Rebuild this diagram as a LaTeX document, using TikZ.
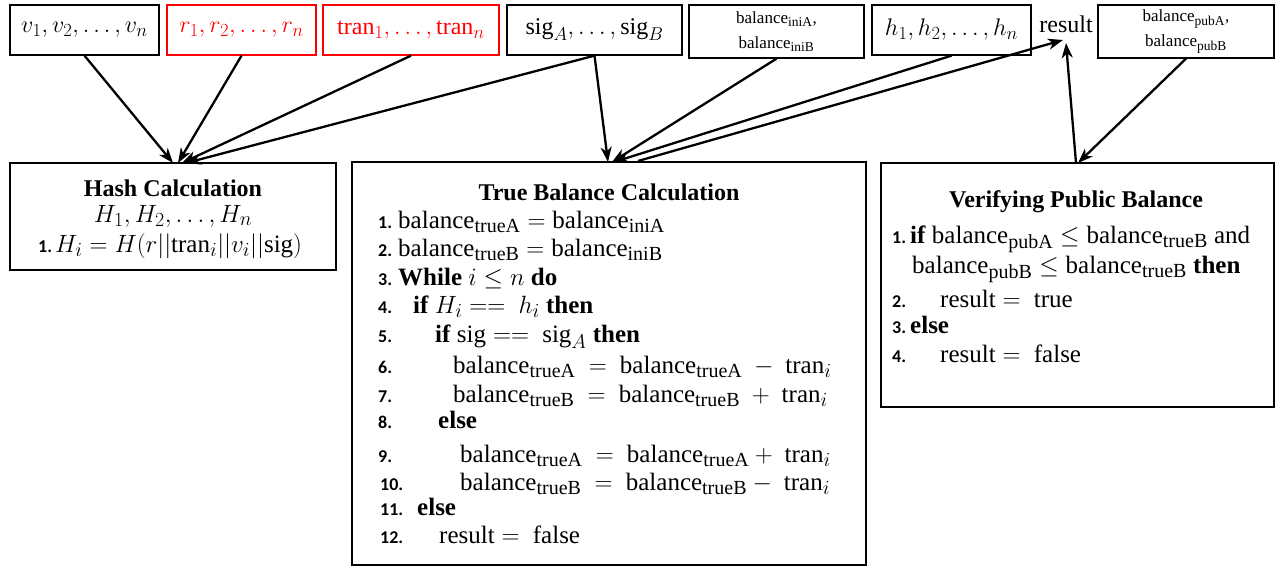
\RequirePackage{fix-cm}
\documentclass[tikz,border=0pt]{standalone}
\usepackage{amsmath}
\usepackage{fontspec}
\setmainfont{Liberation Serif}
\newfontfamily\numfont{Carlito}
\DeclareMathSizes{25}{25}{20}{15}
\DeclareMathSizes{24}{24}{18.5}{13}
\DeclareMathSizes{17}{17}{13.5}{10}
\usetikzlibrary{arrows.meta,calc}
\definecolor{boxred}{RGB}{255,0,0}
\newcommand{\bal}[1]{\mathrm{balance}_{\mathrm{#1}}}
\newcommand{\trn}{\mathrm{tran}_i}
\tikzset{
  inbox/.style={draw, line width=1.3pt, minimum height=50pt, inner sep=0pt, font=\fontsize{24}{28}\selectfont},
  redbox/.style={inbox, draw=boxred, text=boxred},
  smallbox/.style={inbox, minimum height=53pt, align=center, font=\fontsize{17}{25}\selectfont},
  bigbox/.style={draw, line width=1.3pt, inner sep=0pt},
  txt/.style={anchor=base west, inner sep=0pt, font=\fontsize{25}{29}\selectfont},
  ttl/.style={anchor=base, inner sep=0pt, font=\bfseries\fontsize{24}{28}\selectfont},
  num/.style={anchor=base west, inner sep=0pt, font=\numfont\bfseries\fontsize{18}{21}\selectfont},
  arr/.style={line width=2.3pt, -{Stealth[length=15pt,width=11pt,inset=4.5pt]}}
}
\begin{document}
\begin{tikzpicture}[x=1pt,y=-1pt]
\useasboundingbox (0,0) rectangle (1281,567);
% top boxes
\node[inbox, minimum width=149pt] (v) at (84.5,30) {$v_1, v_2, \ldots, v_n$};
\node[redbox, minimum width=149pt] (r) at (241.5,30) {$r_1, r_2, \ldots, r_n$};
\node[redbox, minimum width=176pt] (tran) at (411,30) {$\mathrm{tran}_1, \ldots, \mathrm{tran}_n$};
\node[inbox, minimum width=175pt] (sig) at (594.5,30) {$\mathrm{sig}_A, \ldots, \mathrm{sig}_B$};
\node[smallbox, minimum width=175pt] (ini) at (776.5,31.5) {$\bal{iniA}$,\\$\bal{iniB}$};
\node[inbox, minimum width=159pt] (h) at (951.5,30) {$h_1, h_2, \ldots, h_n$};
\node[inner sep=0pt, font=\fontsize{24}{28}\selectfont] (res) at (1066,24) {result};
\node[smallbox, minimum width=176pt] (pub) at (1186,31.5) {$\bal{pubA}$,\\$\bal{pubB}$};
% big boxes
\node[bigbox, minimum width=326pt, minimum height=107pt] (hash) at (173,216.5) {};
\node[bigbox, minimum width=514pt, minimum height=403pt] (tb) at (609,363.5) {};
\node[bigbox, minimum width=393pt, minimum height=244pt] (vp) at (1077.5,285) {};
% connector end points
\coordinate (ha) at (173,163);
\coordinate (hb) at (178,163);
\coordinate (hc) at (182,163);
\coordinate (hd) at (186,163);
\coordinate (ta) at (608,162);
\coordinate (tb1) at (612,162);
\coordinate (tc) at (614,162);
\coordinate (td) at (638,161);
\coordinate (ra) at (1063,40);
\coordinate (rb) at (1066,43);
\coordinate (va) at (1076,163);
\coordinate (vb) at (1078,163);
% connectors
\draw[arr] (v.south) -- (ha);
\draw[arr] (r.south) -- (hb);
\draw[arr] (tran.south) -- (hc);
\draw[arr] (sig.south) -- (hd);
\draw[arr] (sig.south) -- (ta);
\draw[arr] (ini.south) -- (tb1);
\draw[arr] (h.south) -- (tc);
\draw[arr] (td) -- (ra);
\draw[arr] (va) -- (rb);
\draw[arr] (pub.south) -- (vb);
% hash box text
\node[ttl] (hasht) at (173,196) {Hash Calculation};
\node[txt, anchor=base] (hl2) at (173,222) {$H_1, H_2, \ldots, H_n$};
\node[num] (hn) at (38,252) {1.};
\node[txt] (hl3) at (55,252) {$H_i = H(r||\mathrm{tran}_i||v_i||\mathrm{sig})$};
% true balance text
\node[ttl] (tbt) at (609,200) {True Balance Calculation};
\node[num] (n1) at (378,228) {1.};
\node[txt] (l1) at (398,228) {$\bal{trueA} = \bal{iniA}$};
\node[num] (n2) at (378,256) {2.};
\node[txt] (l2) at (398,256) {$\bal{trueB} = \bal{iniB}$};
\node[num] (n3) at (378,285) {3.};
\node[txt] (l3) at (398,285) {\textbf{While} $i \le n$ \textbf{do}};
\node[num] (n4) at (378,313) {4.};
\node[txt] (l4) at (413,313) {\textbf{if} $H_i \mathrel{==}\ h_i$ \textbf{then}};
\node[num] (n5) at (378,342) {5.};
\node[txt] (l5) at (435,342) {\textbf{if} $\mathrm{sig} \mathrel{==}\ \mathrm{sig}_A$ \textbf{then}};
\node[num] (n6) at (378,373) {6.};
\node[txt] (l6) at (453,373) {$\bal{trueA}\ =\ \bal{trueA}\ -\ \trn$};
\node[num] (n7) at (378,402) {7.};
\node[txt] (l7) at (453,402) {$\bal{trueB}\ =\ \bal{trueB}\ +\ \trn$};
\node[num] (n8) at (378,428) {8.};
\node[txt] (l8) at (438,428) {\textbf{else}};
\node[num] (n9) at (378,462) {9.};
\node[txt] (l9) at (460,462) {$\bal{trueA}\ =\ \bal{trueA} + \ \trn$};
\node[num] (n10) at (380,490) {10.};
\node[txt] (l10) at (460,490) {$\bal{trueB}\ =\ \bal{trueB} - \ \trn$};
\node[num] (n11) at (380,515) {11.};
\node[txt] (l11) at (417,515) {\textbf{else}};
\node[num] (n12) at (380,543) {12.};
\node[txt] (l12) at (439,543) {$\mathrm{result} =\ \mathrm{false}$};
% verifying text
\node[ttl] (vpt) at (1076,207) {Verifying Public Balance};
\node[num] (m1) at (892,243) {1.};
\node[txt] (k1) at (910,243) {\textbf{if} $\bal{pubA} \le \bal{trueB}$ and};
\node[txt] (k1b) at (912,273) {$\bal{pubB} \le \bal{trueB}$ \textbf{then}};
\node[num] (m2) at (892,307) {2.};
\node[txt] (k2) at (940,307) {$\mathrm{result} =\ \mathrm{true}$};
\node[num] (m3) at (892,333) {3.};
\node[txt] (k3) at (910,333) {\textbf{else}};
\node[num] (m4) at (892,362) {4.};
\node[txt] (k4) at (940,362) {$\mathrm{result} =\ \mathrm{false}$};
\end{tikzpicture}
\end{document}
